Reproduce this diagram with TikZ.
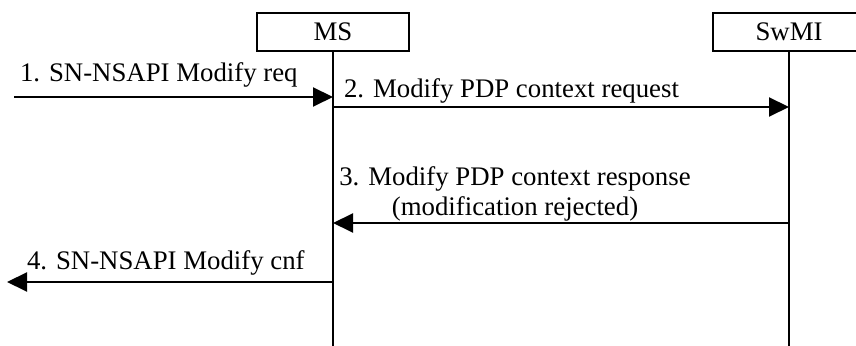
\documentclass[tikz,border=0pt]{standalone}
\usepackage{fontspec}
\setmainfont{Liberation Serif}
\usetikzlibrary{positioning, arrows.meta}

\begin{document}
\begin{tikzpicture}[x=0.5pt, y=-0.5pt, line width=1pt,
  font=\fontsize{13.4}{15}\selectfont,
  >={Triangle[length=10pt, width=9.5pt]},
  entity/.style={draw, line width=0.9pt, minimum width=76pt, minimum height=19pt,
                 inner sep=0pt},
  msg/.style={->},
  lbl/.style={anchor=base west, inner sep=0pt}]
  \useasboundingbox (0,0) rectangle (856,346);
  % entities and lifelines
  \node[entity] (ms)   at (333,32) {MS};
  \node[entity] (swmi) at (789,32) {SwMI};
  \coordinate (msend)   at (333,350);
  \coordinate (swmiend) at (789,350);
  \draw (ms) -- (msend);
  \draw (swmi) -- (swmiend);
  % message end points
  \coordinate (in1)  at (14,97);
  \coordinate (ms1)  at (333,97);
  \coordinate (ms2)  at (333,107);
  \coordinate (sw2)  at (789,107);
  \coordinate (sw3)  at (789,223);
  \coordinate (ms3)  at (333,223);
  \coordinate (ms4)  at (333,282);
  \coordinate (out4) at (7,282);
  % messages
  \draw[msg] (in1) -- (ms1);
  \node[lbl] (l1) at (19,82) {1. SN-NSAPI Modify req};
  \draw[msg] (ms2) -- (sw2);
  \node[lbl] (l2) at (343,98) {2. Modify PDP context request};
  \draw[msg] (sw3) -- (ms3);
  \node[anchor=south, align=center, inner sep=0pt] (l3) at (515,222)
    {3. Modify PDP context response\\(modification rejected)};
  \draw[msg] (ms4) -- (out4);
  \node[lbl] (l4) at (26,270) {4. SN-NSAPI Modify cnf};
\end{tikzpicture}
\end{document}
